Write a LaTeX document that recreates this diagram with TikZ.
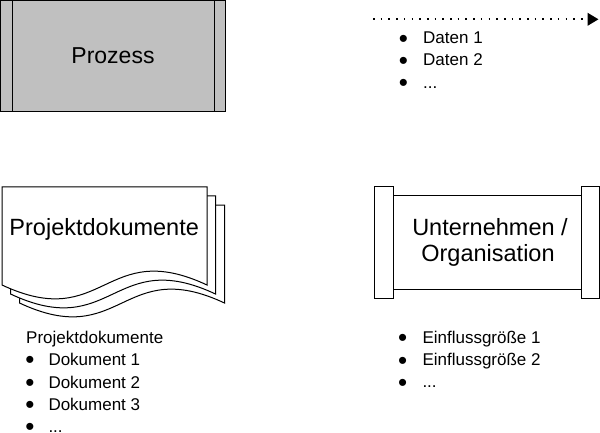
\documentclass[tikz,border=0pt]{standalone}
\usepackage{fontspec}
\setmainfont{Liberation Sans}
\usetikzlibrary{arrows.meta}
\definecolor{procgray}{HTML}{C0C0C0}
\begin{document}
\begin{tikzpicture}[x=1pt,y=-1pt,
  line/.style={draw=black,line width=1pt},
  boxshape/.style={line,rectangle,inner sep=0pt,outer sep=0pt},
  biglabel/.style={font=\fontsize{23.5}{27}\selectfont,inner sep=0pt,anchor=base},
  listtext/.style={font=\fontsize{17}{22}\selectfont,inner sep=0pt,anchor=base west},
  bulletmark/.style={font=\fontsize{26}{26}\selectfont,inner sep=0pt,anchor=base,yshift=-9.1pt},
  docpage/.pic={\draw[line,fill=white] (0,0) -- (205,0) -- (205,98)
      .. controls (102.5,50) and (102.5,146) .. (0,98) -- cycle;}
]
\useasboundingbox (0,0) rectangle (600,433);

% Prozess
\node[boxshape,fill=procgray,minimum width=224.5pt,minimum height=111.5pt] (proc) at (112.75,56.25) {};
\draw[line] ([xshift=11.5pt]proc.north west) -- ([xshift=11.5pt]proc.south west);
\draw[line] ([xshift=-11pt]proc.north east) -- ([xshift=-11pt]proc.south east);
\node[biglabel,font=\fontsize{23}{27}\selectfont] (proclabel) at (113,63.3) {Prozess};

% dotted data arrow
\coordinate (dstart) at (373,19.3);
\coordinate (dend) at (598.5,19.3);
\draw[draw=black,line width=1.6pt,dash pattern=on 1.6pt off 6.1pt,
      -{Triangle[length=11pt,width=12.7pt]}] (dstart) -- (dend);
\node[bulletmark] (db1) at (403.3,38.3) {•};
\node[listtext] (dt1) at (423,44) {Daten 1};
\node[bulletmark] (db2) at (403.3,60.3) {•};
\node[listtext] (dt2) at (423,66) {Daten 2};
\node[bulletmark] (db3) at (403.3,82.6) {•};
\node[listtext] (dt3) at (423,88.3) {...};

% document stack
\pic at (19.5,205) {docpage};
\pic at (10.5,196) {docpage};
\pic at (2,187) {docpage};
\node[biglabel] (doclabel) at (104.2,235.7) {Projektdokumente};

\node[listtext] (pdh) at (26,343) {Projektdokumente};
\node[bulletmark] (pb1) at (30,359.8) {•};
\node[listtext] (pt1) at (48.3,365.5) {Dokument 1};
\node[bulletmark] (pb2) at (30,382.3) {•};
\node[listtext] (pt2) at (48.3,388) {Dokument 2};
\node[bulletmark] (pb3) at (30,404.6) {•};
\node[listtext] (pt3) at (48.3,410.3) {Dokument 3};
\node[bulletmark] (pb4) at (30,426.7) {•};
\node[listtext] (pt4) at (48.3,432.3) {...};

% Unternehmen / Organisation scroll
\node[boxshape,fill=white,minimum width=188pt,minimum height=93pt] (org) at (487,242.5) {};
\node[boxshape,fill=white,minimum width=19pt,minimum height=111pt] (orgl) at (383.5,242.5) {};
\node[boxshape,fill=white,minimum width=18pt,minimum height=111pt] (orgr) at (590,242.5) {};
\node[biglabel] (orgt1) at (490,235) {Unternehmen /};
\node[biglabel] (orgt2) at (488,261.7) {Organisation};

\node[bulletmark] (eb1) at (402.7,337.6) {•};
\node[listtext] (et1) at (422.3,343.3) {Einflussgröße 1};
\node[bulletmark] (eb2) at (402.7,360) {•};
\node[listtext] (et2) at (422.3,365.7) {Einflussgröße 2};
\node[bulletmark] (eb3) at (402.7,382) {•};
\node[listtext] (et3) at (422.3,387.7) {...};
\end{tikzpicture}
\end{document}
